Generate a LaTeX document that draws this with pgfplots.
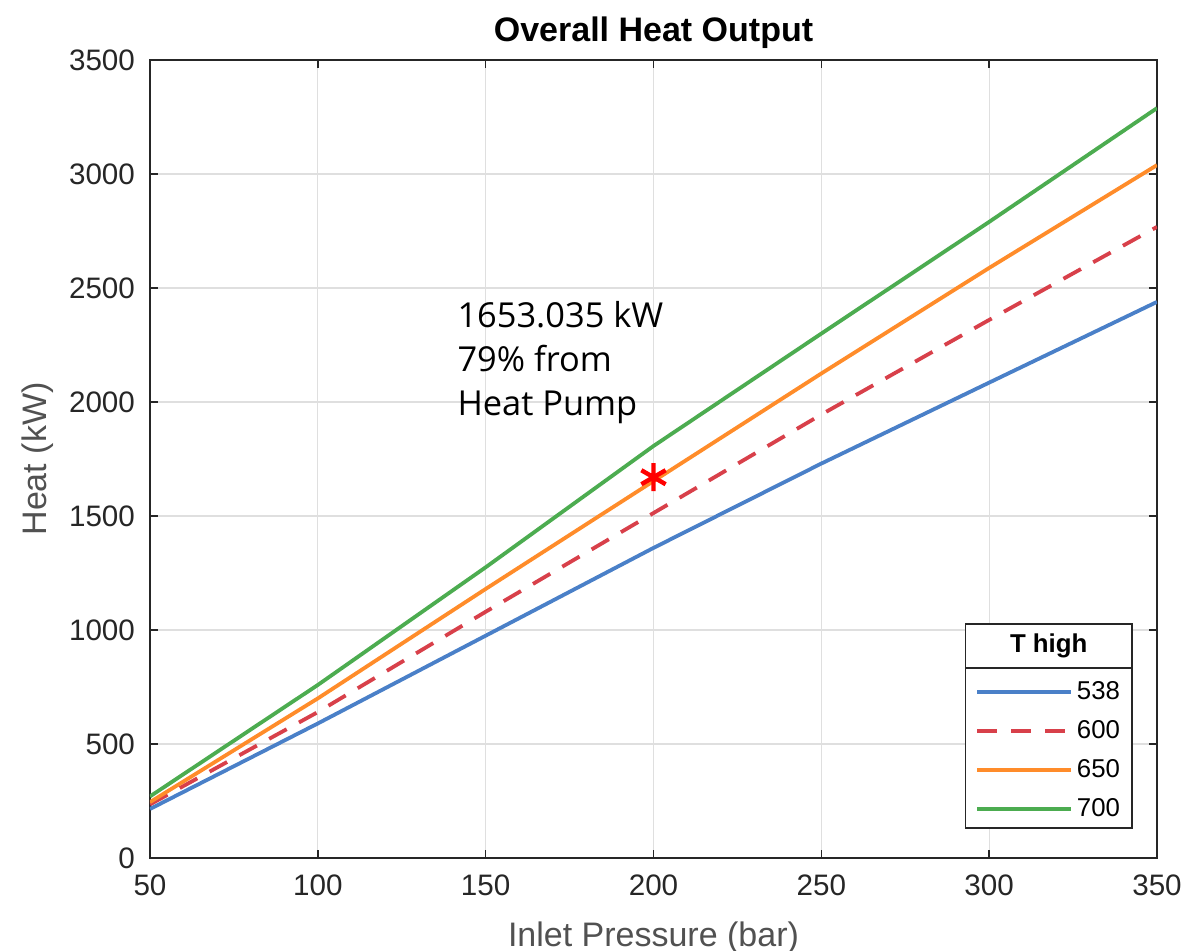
\documentclass[border=0pt]{standalone}
\usepackage{fontspec}
\setmainfont{Liberation Sans}
\newfontfamily\notefont{Open Sans}
\usepackage{pgfplots}
\pgfplotsset{compat=1.18}
\usetikzlibrary{calc}

\definecolor{mblue}{RGB}{74,128,200}
\definecolor{mred}{RGB}{216,64,74}
\definecolor{morange}{RGB}{255,140,42}
\definecolor{mgreen}{RGB}{76,172,80}
\definecolor{mgrid}{RGB}{223,223,223}
\definecolor{maxis}{RGB}{38,38,38}

\begin{document}
\begin{tikzpicture}
\begin{axis}[name=ax,
  scale only axis, width=503.5pt, height=399pt,
  xmin=50, xmax=350, ymin=0, ymax=3500,
  xtick={50,100,...,350}, ytick={0,500,...,3500},
  grid=major, major grid style={mgrid, line width=0.6pt},
  tick align=inside, major tick length=4pt,
  axis line style={maxis, line width=0.8pt},
  tick style={maxis, line width=0.8pt},
  ticklabel style={font=\fontsize{14.8}{16}\selectfont, text=maxis},
  xticklabel style={yshift=-5pt},
  yticklabel style={xshift=-4pt},
  /pgf/number format/assume math mode=true,
  /pgf/number format/set thousands separator={},
  label style={font=\fontsize{17}{19}\selectfont, text=maxis!80},
  xlabel={Inlet Pressure (bar)},
  ylabel={Heat (kW)},
  xlabel style={yshift=-6pt},
  ylabel style={yshift=1pt},
  title={\textbf{Overall Heat Output}},
  title style={font=\fontsize{17}{19}\selectfont, yshift=-4pt},
  legend style={draw=none, fill=none, at={(rel axis cs:0.815,0.232)}, anchor=north west,
    font=\fontsize{12.9}{14}\selectfont, row sep=5pt, inner sep=2pt},
  legend cell align=left,
  legend image code/.code={\draw[#1, line width=1.9pt] (0cm,0cm) -- (47pt,0cm);},
]
\addplot[mblue, line width=1.9pt] coordinates {(50,215)(100,590)(150,975)(200,1360)(250,1730)(300,2085)(350,2439)};
\addlegendentry{538}
\addplot[mred, line width=1.9pt, dash pattern=on 10pt off 7pt] coordinates {(50,235)(100,640)(150,1080)(200,1513)(250,1945)(300,2360)(350,2768)};
\addlegendentry{600}
\addplot[morange, line width=1.9pt] coordinates {(50,245)(100,700)(150,1180)(200,1653)(250,2125)(300,2588)(350,3039)};
\addlegendentry{650}
\addplot[mgreen, line width=1.9pt] coordinates {(50,270)(100,759)(150,1275)(200,1807)(250,2300)(300,2790)(350,3289)};
\addlegendentry{700}
\addplot[red, only marks, mark=asterisk, mark size=7pt, line width=2.2pt, forget plot] coordinates {(200,1670)};
\node[anchor=north west, align=left, font=\notefont\fontsize{17.2}{22}\selectfont, inner sep=0pt]
  at (axis cs:141.5,2445) {1653.035 kW\\79\% from\\Heat Pump};
\draw[maxis, line width=0.8pt, fill=white] (rel axis cs:0.81,0.0376) rectangle (rel axis cs:0.975,0.293);
\draw[maxis, line width=0.8pt] (rel axis cs:0.81,0.238) -- (rel axis cs:0.975,0.238);
\node[font=\fontsize{12.9}{14}\selectfont\bfseries] at (rel axis cs:0.8925,0.2655) {T high};
\end{axis}
\pgfresetboundingbox
\path ($(ax.south west)+(-75pt,-46.5pt)$) rectangle ($(ax.north east)+(12.5pt,30pt)$);
\end{tikzpicture}
\end{document}
